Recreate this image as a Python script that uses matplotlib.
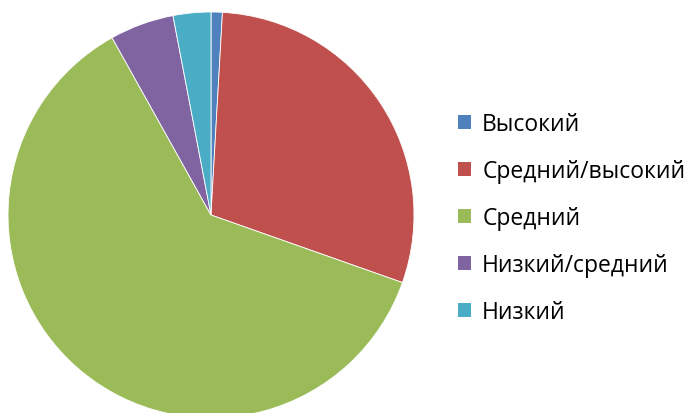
import matplotlib
matplotlib.use("Agg")
import matplotlib.pyplot as plt
from matplotlib.patches import Patch

labels = ["Высокий", "Средний/высокий", "Средний", "Низкий/средний", "Низкий"]
values = [0.9, 29.5, 61.5, 5.1, 3.0]
colors = ["#4F81BD", "#C0504D", "#9BBB59", "#8064A2", "#4BACC6"]

W, H = 688, 414
fig = plt.figure(figsize=(W / 100, H / 100), dpi=100)

# pie centre ~ (211, 216) px, radius ~203 px
cx, cy, r = 211, 216, 203
ax = fig.add_axes([(cx - r) / W, (H - cy - r) / H, 2 * r / W, 2 * r / H])
ax.pie(values, colors=colors, startangle=90, counterclock=False,
       wedgeprops=dict(edgecolor="white", linewidth=0.6))
ax.set_xlim(-1, 1)
ax.set_ylim(-1, 1)
ax.set_aspect("equal")
ax.axis("off")

handles = [Patch(facecolor=c, edgecolor="none") for c in colors]
fig.legend(handles, labels, loc="center left", bbox_to_anchor=(437 / W, 1 - 219 / H),
           frameon=False, prop={"family": "Open Sans", "size": 16.5},
           handlelength=0.57, handleheight=0.57, handletextpad=0.5, labelspacing=1.0)

fig.savefig("out.png", dpi=100)
